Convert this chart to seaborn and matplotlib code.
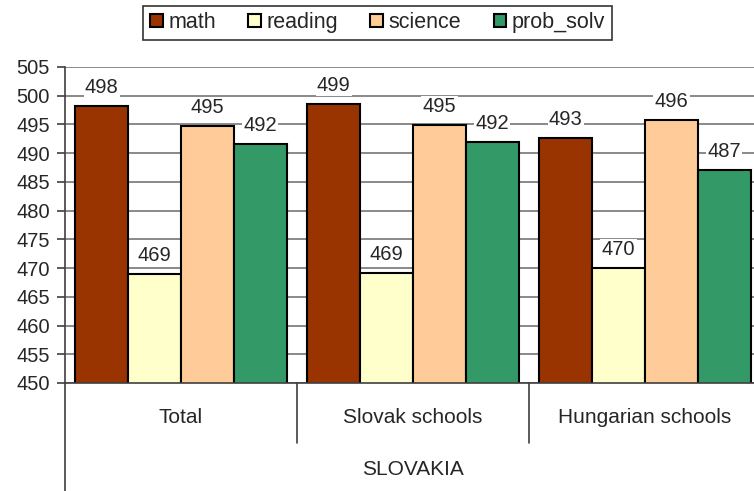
import matplotlib
import matplotlib.pyplot as plt
import pandas as pd
import seaborn as sns

matplotlib.use('Agg')

groups = ['Total', 'Slovak schools', 'Hungarian schools']
subjects = ['math', 'reading', 'science', 'prob_solv']
math = [498.2, 498.6, 492.6]
reading = [469.0, 469.1, 470.0]
science = [494.7, 494.9, 495.8]
prob_solv = [491.6, 491.9, 487.0]
colors = ['#993300', '#FFFFCC', '#FFCC99', '#339966']
country = 'SLOVAKIA'

rows = []
for name, vals in zip(subjects, [math, reading, science, prob_solv]):
    for g, v in zip(groups, vals):
        rows.append({'group': g, 'subject': name, 'score': v})
df = pd.DataFrame(rows)

sns.set_style('white')
plt.rcParams['font.family'] = ['Liberation Sans', 'DejaVu Sans']

fig = plt.figure(figsize=(7.54, 4.91), dpi=100)
ax = fig.add_axes([65 / 754, 108 / 491, 696 / 754, 316 / 491])

sns.barplot(data=df, x='group', y='score', hue='subject', order=groups,
            hue_order=subjects, palette=colors, saturation=1, width=0.91,
            gap=0, edgecolor='black', linewidth=1.5, errorbar=None, ax=ax)

for cont in ax.containers:
    ax.bar_label(cont, fmt='%.0f', padding=6.5, fontsize=14.5,
                 bbox=dict(facecolor='white', edgecolor='none', pad=1))

ax.set_ylim(450, 505)
ax.set_yticks(range(450, 506, 5))
ax.set_xlim(-0.5, 2.5)
ax.yaxis.grid(True, color='#808080', lw=1.3)
ax.set_axisbelow(True)
ax.tick_params(axis='y', labelsize=14.5, length=6, width=1.2, color='#404040',
               direction='out', left=True, pad=5)
ax.tick_params(axis='x', length=0, labelbottom=False)
ax.set_xlabel('')
ax.set_ylabel('')
for s in ['top', 'right']:
    ax.spines[s].set_visible(False)
ax.spines['left'].set_color('#404040')
ax.spines['bottom'].set_color('#404040')
ax.spines['left'].set_linewidth(1.2)
ax.spines['bottom'].set_linewidth(1.2)

# multi-level category axis
tr = ax.get_xaxis_transform()
ax.plot([-0.5, -0.5], [0, -0.342], transform=tr, color='#404040', lw=1.2,
        clip_on=False)
for xs in [0.5, 1.5]:
    ax.plot([xs, xs], [0, -0.19], transform=tr, color='#404040', lw=1.2,
            clip_on=False)
for i, g in enumerate(groups):
    ax.text(i, -0.108, g, transform=tr, ha='center', va='center', fontsize=15)
ax.text(1, -0.275, country, transform=tr, ha='center', va='center',
        fontsize=15)

handles, labels = ax.get_legend_handles_labels()
ax.get_legend().remove()
leg = fig.legend(handles, labels, loc='center', bbox_to_anchor=(0.5007, 0.954),
                 ncol=4, fontsize=15.5, frameon=True, fancybox=False,
                 edgecolor='black', handlelength=0.6, handleheight=0.6,
                 handletextpad=0.25, columnspacing=1.5, borderpad=0.3)
leg.get_frame().set_linewidth(1.2)

fig.savefig('out.png', dpi=100)
